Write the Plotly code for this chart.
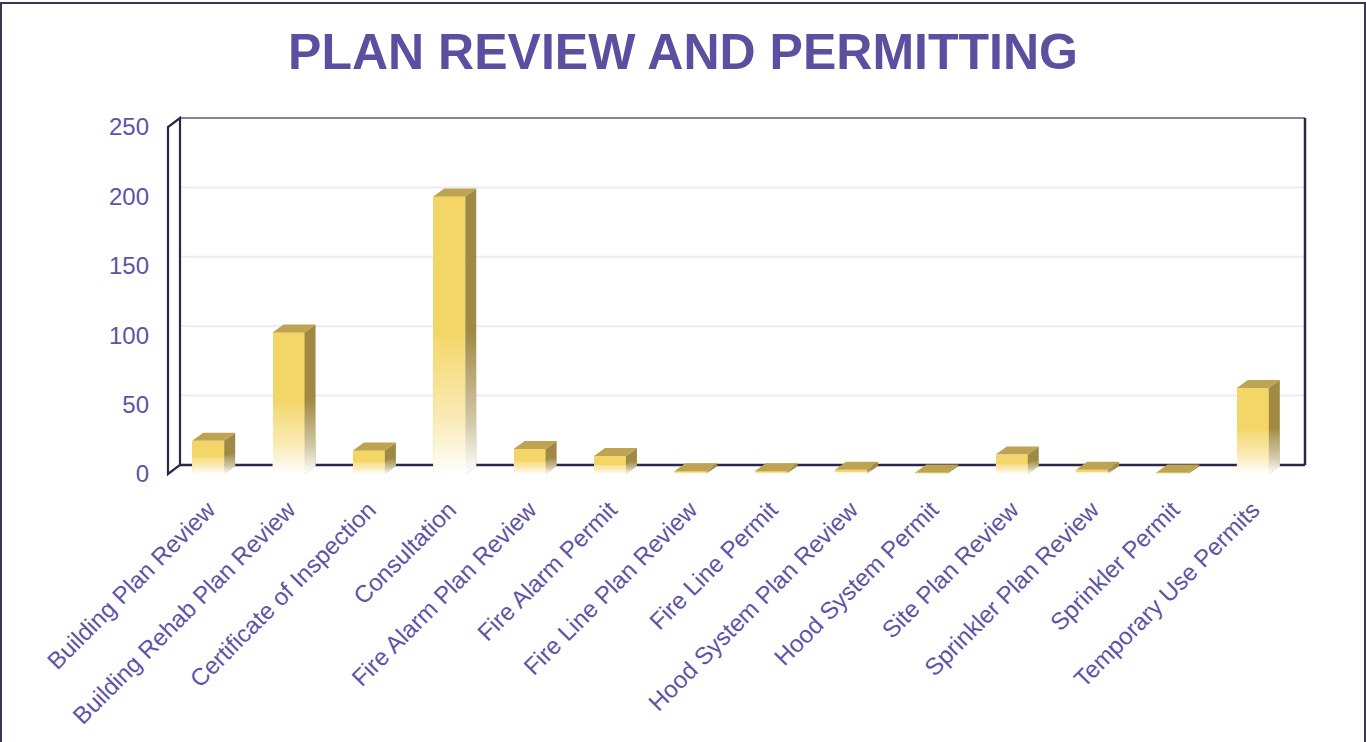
import plotly.graph_objects as go

# ---------------- data ----------------
categories = [
    "Building Plan Review", "Building Rehab Plan Review", "Certificate of Inspection",
    "Consultation", "Fire Alarm Plan Review", "Fire Alarm Permit", "Fire Line Plan Review",
    "Fire Line Permit", "Hood System Plan Review", "Hood System Permit", "Site Plan Review",
    "Sprinkler Plan Review", "Sprinkler Permit", "Temporary Use Permits",
]
values = [24, 102, 17, 200, 18, 13, 2, 2, 3, 1, 14, 3, 1, 62]
y_ticks = [0, 50, 100, 150, 200, 250]
title_text = "PLAN REVIEW AND PERMITTING"

# ---------------- styling / geometry (pixels) ----------------
W, H = 1366, 742
FRONT_X0, FRONT_Y0 = 168, 474          # front wall left edge, front zero line
PPX = (1305 - 12 - 168) / 14           # px per category
PPY = (474 - 9 - 118) / 250            # px per unit
WALL_DX, WALL_DY = 12, 9               # 3D wall depth (px)
BAR_DX, BAR_DY = 11, 8                 # bar depth (px)
BAR_W = 32                             # bar front width (px)
PL, PR, PT, PB = 160, 1314, 110, 482   # plot area in px

PURPLE = "#5C4FA0"
TICK_PURPLE = "#5E53A5"
FRONT = "#F4D668"
SIDE = "#A08A43"
TOP = "#BEA452"
WALL = "#2B2847"
GRID = "#ECEAF5"

N = len(categories)
ymax = y_ticks[-1]
DX = WALL_DX / PPX
DY = WALL_DY / PPY
bx = BAR_DX / PPX
by = BAR_DY / PPY
bw = BAR_W / PPX

x_range = [-0.5 - (FRONT_X0 - PL) / PPX, -0.5 + (PR - FRONT_X0) / PPX]
y_range = [-(PB - FRONT_Y0) / PPY, (FRONT_Y0 - PT) / PPY]

xs_pos = list(range(N))

fig = go.Figure()

# front faces (real bars)
fig.add_trace(go.Bar(
    x=xs_pos, y=values, width=bw,
    marker=dict(color=FRONT, line=dict(width=0)),
    hovertemplate="%{customdata}: %{y}<extra></extra>",
    customdata=categories, showlegend=False,
))

# side faces and top faces
side_x, side_y, top_x, top_y = [], [], [], []
for i, v in zip(xs_pos, values):
    xl, xr = i - bw / 2, i + bw / 2
    side_x += [xr, xr + bx, xr + bx, xr, xr, None]
    side_y += [0, by, v + by, v, 0, None]
    top_x += [xl, xl + bx, xr + bx, xr, xl, None]
    top_y += [v, v + by, v + by, v, v, None]

fig.add_trace(go.Scatter(x=side_x, y=side_y, mode="none", fill="toself",
                         fillcolor=SIDE, hoverinfo="skip", showlegend=False))
fig.add_trace(go.Scatter(x=top_x, y=top_y, mode="none", fill="toself",
                         fillcolor=TOP, hoverinfo="skip", showlegend=False))

# white fade towards the floor
for i, v in zip(xs_pos, values):
    xl, xr = i - bw / 2, i + bw / 2
    f = 0.5 * v
    fx = [xl, xr, xr + bx, xr + bx, xr, xl, xl]
    fy = [0, 0, by, by + f, f, f, 0]
    fig.add_trace(go.Scatter(
        x=fx, y=fy, mode="none", fill="toself", hoverinfo="skip", showlegend=False,
        fillgradient=dict(type="vertical", start=0, stop=f + by * 0.5,
                          colorscale=[[0, "rgba(255,255,255,1)"],
                                      [0.35, "rgba(255,255,255,0.55)"],
                                      [1, "rgba(255,255,255,0)"]]),
    ))

shapes = []
# back-wall gridlines
for t in y_ticks[1:-1]:
    shapes.append(dict(type="line", xref="x", yref="y", layer="below",
                       x0=-0.5 + DX, x1=N - 0.5 + DX, y0=t + DY, y1=t + DY,
                       line=dict(color=GRID, width=2)))
# top edge of back wall
shapes.append(dict(type="line", xref="x", yref="y", layer="below",
                   x0=-0.5 + DX, x1=N - 0.5 + DX, y0=ymax + DY, y1=ymax + DY,
                   line=dict(color="#5E5C74", width=1.5)))
# back floor line
shapes.append(dict(type="line", xref="x", yref="y", layer="below",
                   x0=-0.5 + DX, x1=N - 0.5 + DX, y0=DY, y1=DY,
                   line=dict(color=WALL, width=2.5)))
# right wall edge
shapes.append(dict(type="line", xref="x", yref="y", layer="below",
                   x0=N - 0.5 + DX, x1=N - 0.5 + DX, y0=DY, y1=ymax + DY,
                   line=dict(color=WALL, width=2.5)))
# left wall (slim 3D side)
shapes.append(dict(type="path", xref="x", yref="y", layer="below",
                   path=(f"M {-0.5} {0} L {-0.5} {ymax} L {-0.5 + DX} {ymax + DY} "
                         f"L {-0.5 + DX} {DY} Z"),
                   fillcolor="white", line=dict(color=WALL, width=2.2)))

# outer frame (paper coords)
def px_to_paper_x(px):
    return (px - PL) / (PR - PL)

def px_to_paper_y(py):
    return (PB - py) / (PB - PT)

shapes.append(dict(type="rect", xref="paper", yref="paper", layer="above",
                   x0=px_to_paper_x(1), x1=px_to_paper_x(1365),
                   y0=px_to_paper_y(800), y1=px_to_paper_y(3),
                   line=dict(color="#3A3552", width=2), fillcolor="rgba(0,0,0,0)"))

fig.update_layout(
    width=W, height=H,
    margin=dict(l=PL, r=W - PR, t=PT, b=H - PB, autoexpand=False),
    paper_bgcolor="white", plot_bgcolor="white",
    font=dict(family="Liberation Sans, Arial, sans-serif", color=TICK_PURPLE),
    title=dict(text=f"<b>{title_text}</b>", x=0.5, xref="container", xanchor="center",
               y=1 - 51 / H, yref="container", yanchor="middle",
               font=dict(size=50, color=PURPLE, family="Liberation Sans, Arial, sans-serif")),
    showlegend=False,
    shapes=shapes,
    bargap=0,
)
fig.update_xaxes(range=x_range, tickmode="array", tickvals=xs_pos, ticktext=categories,
                 tickangle=-45, showgrid=False, zeroline=False, showline=False,
                 ticks="", ticklabelstandoff=8,
                 tickfont=dict(size=24, color=TICK_PURPLE), fixedrange=True)
fig.update_yaxes(range=y_range, tickmode="array", tickvals=y_ticks,
                 showgrid=False, zeroline=False, showline=False, ticks="",
                 ticklabelstandoff=10,
                 tickfont=dict(size=24, color=TICK_PURPLE), fixedrange=True)

fig.write_html("out.html", config={"displayModeBar": False},
               post_script="document.body.style.margin='0';")
